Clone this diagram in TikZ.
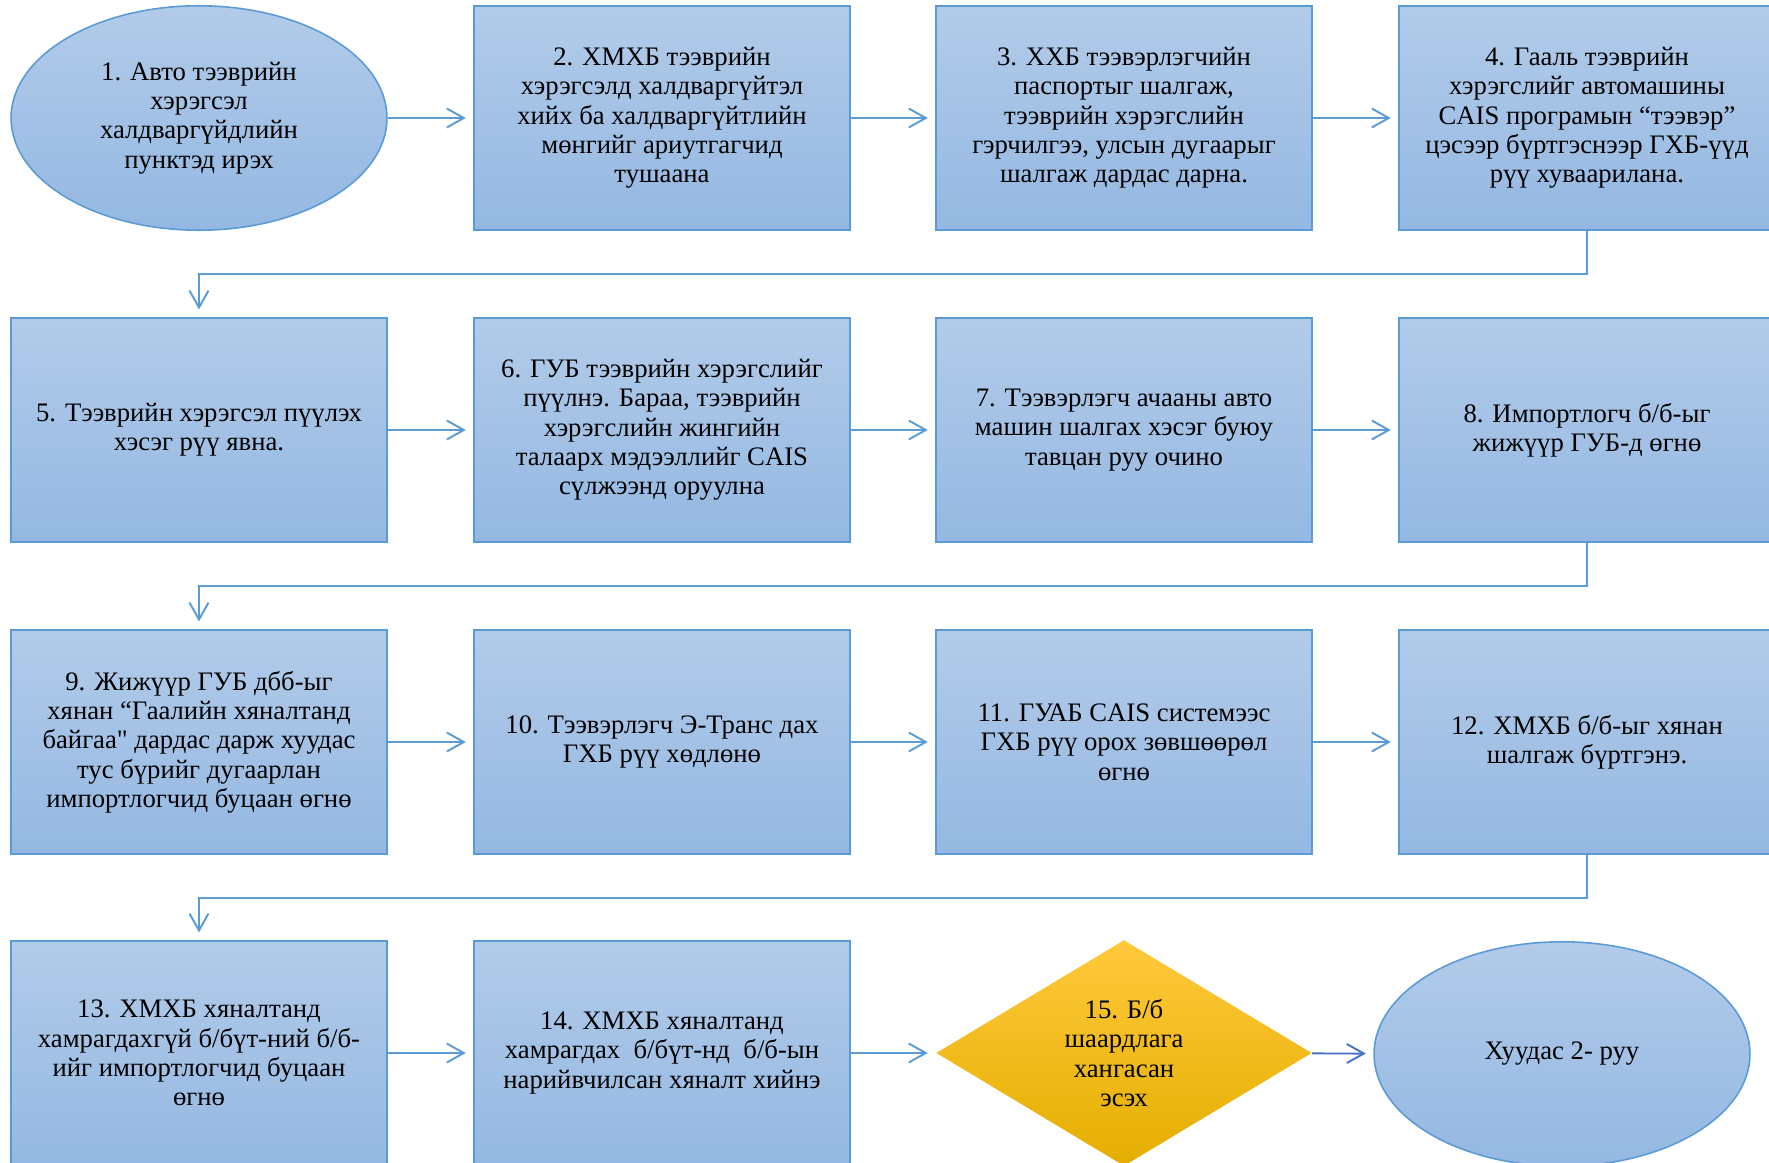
\documentclass[tikz,border=0pt]{standalone}
\usepackage{fontspec}
\setmainfont{Liberation Serif}[Ligatures=TeXOff]
\usetikzlibrary{shapes.geometric, arrows.meta}
\definecolor{boxtop}{RGB}{178,203,233}
\definecolor{boxbot}{RGB}{148,184,226}
\definecolor{boxline}{RGB}{91,155,213}
\definecolor{darkline}{RGB}{68,114,196}
\definecolor{goldtop}{RGB}{255,201,60}
\definecolor{goldmid}{RGB}{255,192,0}
\definecolor{goldbot}{RGB}{228,174,0}
\tikzset{
	stepbox/.style={rectangle, draw=boxline, line width=0.9pt, top color=boxtop, bottom color=boxbot,
		minimum width=7.52cm, minimum height=4.49cm, inner sep=0pt, align=center,
		font=\fontsize{15.2}{16.7}\selectfont},
	endball/.style={stepbox, ellipse},
	checkbox/.style={stepbox, diamond, draw=none, top color=goldtop, middle color=goldmid, bottom color=goldbot},
	link/.style={draw=boxline, line width=1.1pt, shorten >=0.15cm, -{Straight Barb[length=0.34cm, width=0.38cm]}}
}
\begin{document}
\begin{tikzpicture}[x=0.02cm, y=-0.02cm]
			\clip (0,0) rectangle (1769,1163);
			
			% row 1
			\node[endball] (s1) at (199,118) {1. Авто тээврийн\\ хэрэгсэл\\ халдваргүйдлийн\\ пунктэд ирэх};
			\node[stepbox] (s2) at (662,118) {2. ХМХБ тээврийн\\ хэрэгсэлд халдваргүйтэл\\ хийх ба халдваргүйтлийн\\ мөнгийг ариутгагчид\\ тушаана};
			\node[stepbox] (s3) at (1124,118) {3. ХХБ тээвэрлэгчийн\\ паспортыг шалгаж,\\ тээврийн хэрэгслийн\\ гэрчилгээ, улсын дугаарыг\\ шалгаж дардас дарна.};
			\node[stepbox] (s4) at (1587,118) {4. Гааль тээврийн\\ хэрэгслийг автомашины\\ CAIS програмын “тээвэр”\\ цэсээр бүртгэснээр ГХБ-үүд\\ рүү хуваарилана.};
			
			% row 2
			\node[stepbox] (s5) at (199,430) {5. Тээврийн хэрэгсэл пүүлэх\\ хэсэг рүү явна.};
			\node[stepbox] (s6) at (662,430) {6. ГУБ тээврийн хэрэгслийг\\ пүүлнэ. Бараа, тээврийн\\ хэрэгслийн жингийн\\ талаарх мэдээллийг CAIS\\ сүлжээнд оруулна};
			\node[stepbox] (s7) at (1124,430) {7. Тээвэрлэгч ачааны авто\\ машин шалгах хэсэг буюу\\ тавцан руу очино};
			\node[stepbox] (s8) at (1587,430) {8. Импортлогч б/б-ыг\\ жижүүр ГУБ-д өгнө};
			
			% row 3
			\node[stepbox] (s9) at (199,742) {9. Жижүүр ГУБ дбб-ыг\\ хянан “Гаалийн хяналтанд\\ байгаа" дардас дарж хуудас\\ тус бүрийг дугаарлан\\ импортлогчид буцаан өгнө};
			\node[stepbox] (s10) at (662,742) {10. Тээвэрлэгч Э-Транс дах\\ ГХБ рүү хөдлөнө};
			\node[stepbox] (s11) at (1124,742) {11. ГУАБ CAIS системээс\\ ГХБ рүү орох зөвшөөрөл\\ өгнө};
			\node[stepbox] (s12) at (1587,742) {12. ХМХБ б/б-ыг хянан\\ шалгаж бүртгэнэ.};
			
			% row 4
			\node[stepbox] (s13) at (199,1053) {13. ХМХБ хяналтанд\\ хамрагдахгүй б/бүт-ний б/б-\\ ийг импортлогчид буцаан\\ өгнө};
			\node[stepbox] (s14) at (662,1053) {14. ХМХБ хяналтанд\\ хамрагдах~ б/бүт-нд~ б/б-ын\\ нарийвчилсан хяналт хийнэ};
			\node[checkbox] (s15) at (1124,1053) {15. Б/б\\ шаардлага\\ хангасан\\ эсэх};
			\node[endball] (page) at (1562,1054) {Хуудас 2- руу};
			
			\foreach \a/\b in {s1/s2, s2/s3, s3/s4, s5/s6, s6/s7, s7/s8, s9/s10, s10/s11, s11/s12, s13/s14, s14/s15}
			\draw[link] (\a) -- (\b);
			\draw[link, draw=darkline] (s15) -- (page);
			
			\foreach \a/\b in {s4/s5, s8/s9, s12/s13}
			\draw[link] (\a.south) -- ++(0,43) -| (\b.north);
		\end{tikzpicture}
\end{document}
